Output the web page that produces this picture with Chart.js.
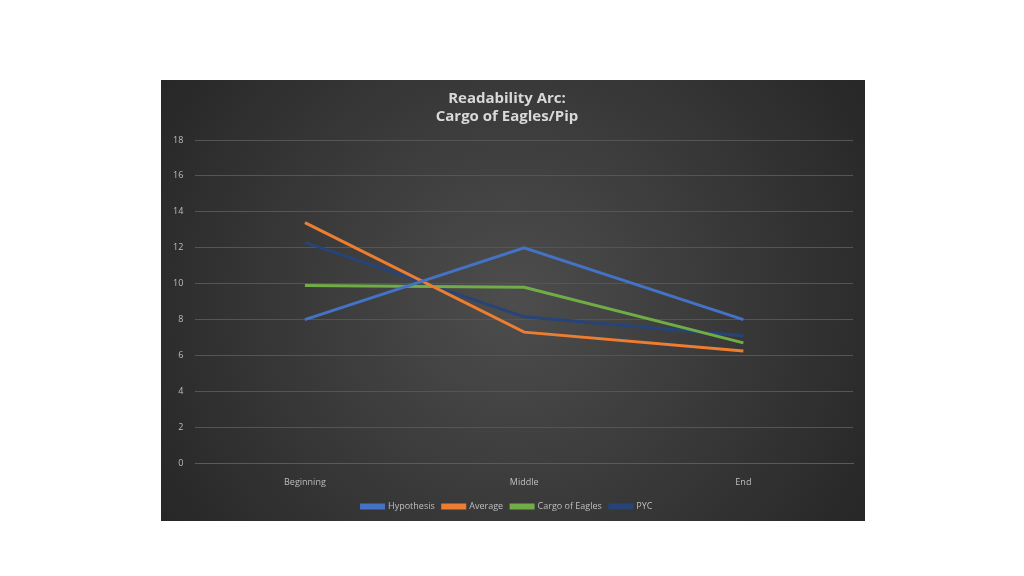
<!DOCTYPE html>
<html><head><meta charset="utf-8">
<script src="https://cdn.jsdelivr.net/npm/chart.js@4/dist/chart.umd.min.js"></script>
<style>
html,body{margin:0;background:#fff;width:1024px;height:576px;overflow:hidden}
#wrap{position:absolute;left:161px;top:80px;width:704px;height:441px}
</style></head><body>
<div id="wrap"><canvas id="c"></canvas></div>
<script>
const categories = ['Beginning','Middle','End'];
const hypothesis = [8, 12, 8];
const average = [13.4, 7.3, 6.25];
const cargoOfEagles = [9.9, 9.8, 6.7];
const pyc = [12.3, 8.15, 7.1];

const bg = {
  id:'bg',
  beforeDraw(chart){
    const {ctx,width,height}=chart;
    const g=ctx.createRadialGradient(width/2,height/2,0,width/2,height/2,width*0.6);
    g.addColorStop(0,'#4d4d4d');
    g.addColorStop(1,'#262626');
    ctx.save();ctx.fillStyle=g;ctx.fillRect(0,0,width,height);ctx.restore();
  }
};
const mk=(label,data,color)=>({label,data,borderColor:color,backgroundColor:color,borderWidth:3,pointRadius:0,tension:0});
new Chart(document.getElementById('c'),{
  type:'line',
  data:{labels:categories,datasets:[
    mk('Hypothesis',hypothesis,'#4472C4'),
    mk('Average',average,'#ED7D31'),
    mk('Cargo of Eagles',cargoOfEagles,'#70AD47'),
    mk('PYC',pyc,'#264478')
  ]},
  options:{
    responsive:true,maintainAspectRatio:false,animation:false,
    layout:{padding:{left:0,right:12,top:8,bottom:0}},
    plugins:{
      title:{display:true,text:['Readability Arc:','Cargo of Eagles/Pip'],color:'#d9d9d9',
        font:{family:'Open Sans',size:15,weight:'bold'},padding:{top:2,bottom:14},lineHeight:1.35},
      legend:{position:'bottom',labels:{color:'#bfbfbf',font:{family:'Open Sans',size:9},
        boxWidth:22,boxHeight:3,padding:8}},
      tooltip:{enabled:false}
    },
    scales:{
      x:{offset:true,grid:{display:false},border:{color:'#5a5a5a'},
        ticks:{color:'#bfbfbf',font:{family:'Open Sans',size:9},padding:6}},
      y:{min:0,max:18,ticks:{stepSize:2,color:'#bfbfbf',font:{family:'Open Sans',size:9},padding:12},
        grid:{color:'#555555',drawTicks:false},border:{display:false}}
    }
  },
  plugins:[bg]
});
</script>
</body></html>
